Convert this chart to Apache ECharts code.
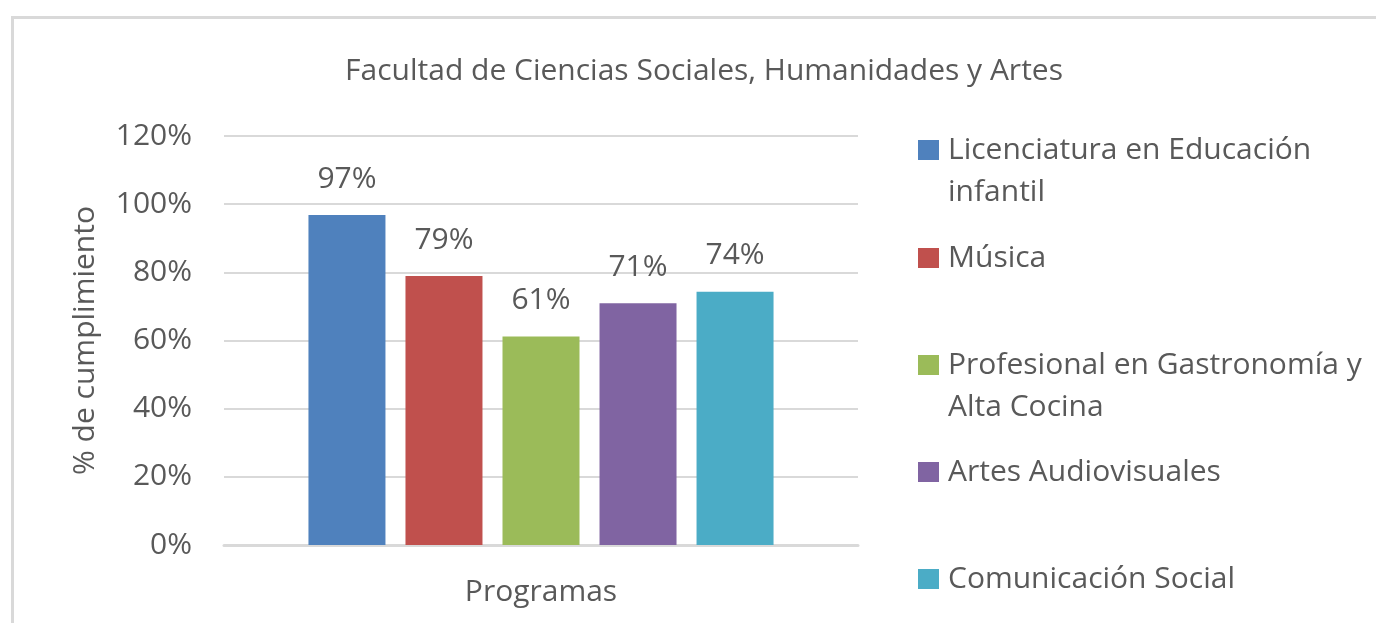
<!DOCTYPE html>
<html>
<head>
<meta charset="utf-8">
<script src="https://cdn.jsdelivr.net/npm/echarts@6/dist/echarts.min.js"></script>
<style>
html,body{margin:0;padding:0;background:#fff;}
#chart{width:1376px;height:623px;}
</style>
</head>
<body>
<div id="chart"></div>
<script>
const titleText = 'Facultad de Ciencias Sociales, Humanidades y Artes';
const categories = ['Programas'];
const seriesNames = ['Licenciatura en Educación infantil', 'Música', 'Profesional en Gastronomía y Alta Cocina', 'Artes Audiovisuales', 'Comunicación Social'];
const legendLabels = ['Licenciatura en Educación\ninfantil', 'Música', 'Profesional en Gastronomía y\nAlta Cocina', 'Artes Audiovisuales', 'Comunicación Social'];
const seriesValues = [0.968, 0.789, 0.612, 0.709, 0.743];
const seriesColors = ['#4F81BD', '#C0504D', '#9BBB59', '#8064A2', '#4BACC6'];

const FONT = '"Open Sans", sans-serif';
const FS = 30;
const TXT = '#595959';
const LH = 42;
const legendCenters = [150, 258, 365, 472, 579];

const chart = echarts.init(document.getElementById('chart'), null, {renderer: 'canvas'});

const legends = seriesNames.map((name, i) => {
  const multi = legendLabels[i].indexOf('\n') >= 0;
  const label = multi ? '\n' + legendLabels[i] : legendLabels[i];
  return {
    data: [name],
    left: 918,
    top: multi ? legendCenters[i] - LH * 1.5 : legendCenters[i] - LH / 2,
    padding: 0,
    orient: 'vertical',
    icon: 'rect',
    itemWidth: 21,
    itemHeight: 20,
    selectedMode: false,
    formatter: () => label,
    textStyle: {
      fontFamily: FONT,
      fontSize: FS,
      color: TXT,
      lineHeight: LH,
      padding: [0, 0, 0, 4]
    }
  };
});

const option = {
  backgroundColor: '#fff',
  animation: false,
  title: {
    text: titleText,
    left: 704,
    textAlign: 'center',
    top: 56,
    padding: 0,
    textStyle: {fontFamily: FONT, fontSize: FS, fontWeight: 'normal', color: TXT}
  },
  graphic: [{
    type: 'rect',
    shape: {x: 12.5, y: 17.5, width: 1400, height: 700},
    style: {fill: null, stroke: '#d9d9d9', lineWidth: 3},
    silent: true
  }],
  legend: legends,
  grid: {left: 224, right: 518, top: 136, bottom: 78},
  xAxis: {
    type: 'category',
    data: categories,
    name: 'Programas',
    nameLocation: 'middle',
    nameGap: 32,
    nameTextStyle: {fontFamily: FONT, fontSize: FS, color: TXT},
    axisLine: {lineStyle: {color: '#d9d9d9', width: 3}},
    axisTick: {show: false},
    axisLabel: {show: false}
  },
  yAxis: {
    type: 'value',
    min: 0,
    max: 1.2,
    interval: 0.2,
    name: '% de cumplimiento',
    nameLocation: 'middle',
    nameGap: 124,
    nameRotate: 90,
    nameTextStyle: {fontFamily: FONT, fontSize: FS, color: TXT},
    axisLine: {show: false},
    axisTick: {show: false},
    axisLabel: {
      fontFamily: FONT, fontSize: FS, color: TXT, margin: 32,
      formatter: v => Math.round(v * 100) + '%'
    },
    splitLine: {lineStyle: {color: '#d9d9d9', width: 2}}
  },
  series: seriesNames.map((name, i) => ({
    name: name,
    type: 'bar',
    data: [seriesValues[i]],
    barWidth: 77,
    barGap: '26%',
    itemStyle: {color: seriesColors[i]},
    label: {
      show: true,
      position: 'top',
      distance: 21,
      fontFamily: FONT,
      fontSize: FS,
      color: TXT,
      formatter: p => Math.round(p.value * 100) + '%'
    }
  }))
};
chart.setOption(option);
</script>
</body>
</html>
